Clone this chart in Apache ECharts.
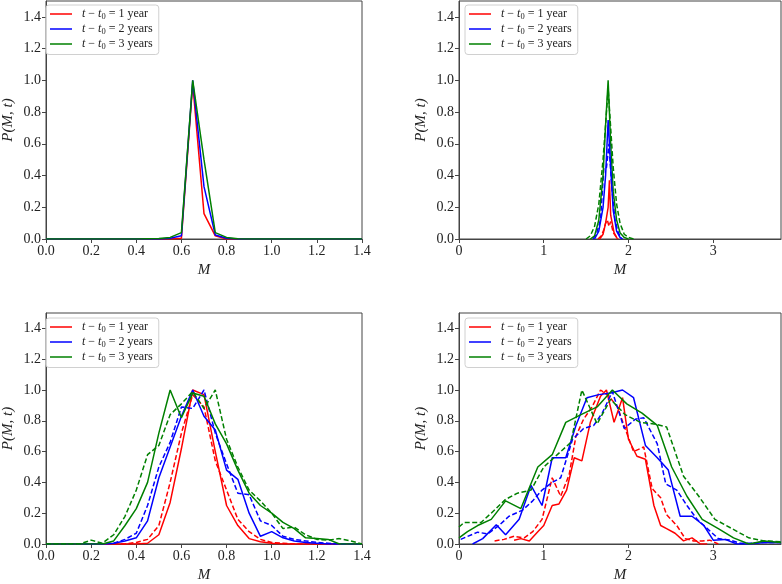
<!DOCTYPE html>
<html>
<head>
<meta charset="utf-8">
<script src="https://cdn.jsdelivr.net/npm/echarts@6/dist/echarts.min.js"></script>
<style>
html,body{margin:0;padding:0;background:#fff;}
#c{width:782px;height:584px;}
</style>
</head>
<body>
<div id="c"></div>
<script>
// ---------- data ----------
const legendNames = ['1 year', '2 years', '3 years'];
const colors = ['#ff0000', '#0000ff', '#008000'];

// Panel A (top-left): M grid
const aM = [0.0, 0.3, 0.35, 0.4, 0.45, 0.5, 0.55, 0.6, 0.65, 0.7, 0.75, 0.8, 0.85, 0.9, 0.95, 1.0, 1.4];
const aRed   = [0, 0, 0, 0, 0, 0, 0, 0.005, 0.98, 0.16, 0.02, 0, 0, 0, 0, 0, 0];
const aBlue  = [0, 0, 0, 0, 0, 0, 0.005, 0.02, 1.0, 0.33, 0.025, 0.005, 0, 0, 0, 0, 0];
const aGreen = [0, 0, 0, 0, 0.002, 0.003, 0.01, 0.04, 1.0, 0.5, 0.04, 0.01, 0.002, 0, 0, 0, 0];

// Panel B (top-right)
const bRedS_M   = [1.66, 1.70, 1.73, 1.76, 1.775, 1.79, 1.83, 1.87];
const bRedS     = [0, 0.03, 0.1, 0.2, 0.37, 0.15, 0.04, 0];
const bRedD_M   = [1.64, 1.68, 1.71, 1.73, 1.75, 1.77, 1.79, 1.82, 1.86, 1.88];
const bRedD     = [0, 0.02, 0.06, 0.1, 0.12, 0.08, 0.11, 0.04, 0.01, 0];
const bBlueS_M  = [1.60, 1.65, 1.70, 1.73, 1.76, 1.79, 1.82, 1.86, 1.90, 1.93];
const bBlueS    = [0, 0.05, 0.2, 0.4, 0.75, 0.45, 0.18, 0.05, 0.01, 0];
const bBlueD_M  = [1.58, 1.62, 1.67, 1.71, 1.74, 1.77, 1.80, 1.84, 1.88, 1.92];
const bBlueD    = [0, 0.03, 0.12, 0.45, 0.45, 0.6, 0.35, 0.12, 0.04, 0];
const bGreenS_M = [1.55, 1.60, 1.65, 1.70, 1.73, 1.76, 1.79, 1.82, 1.86, 1.90, 1.95, 2.00];
const bGreenS   = [0, 0.02, 0.12, 0.4, 0.72, 1.0, 0.6, 0.3, 0.12, 0.04, 0.01, 0];
const bGreenD_M = [1.50, 1.55, 1.60, 1.65, 1.70, 1.73, 1.76, 1.79, 1.82, 1.86, 1.90, 1.95, 2.00, 2.06];
const bGreenD   = [0, 0.02, 0.08, 0.22, 0.5, 0.72, 0.95, 0.7, 0.45, 0.22, 0.1, 0.03, 0.01, 0];

// Panel C (bottom-left): M from 0 to 1.4 step 0.05
const cM = [0, 0.05, 0.1, 0.15, 0.2, 0.25, 0.3, 0.35, 0.4, 0.45, 0.5, 0.55, 0.6, 0.65, 0.7, 0.75, 0.8, 0.85, 0.9, 0.95, 1.0, 1.05, 1.1, 1.15, 1.2, 1.25, 1.3, 1.35, 1.4];
const cRedS   = [0,0,0,0,0,0,0,0,0,0.005,0.06,0.27,0.62,1.0,0.97,0.6,0.25,0.12,0.035,0.015,0.005,0,0,0,0,0,0,0,0];
const cRedD   = [0,0,0,0,0,0,0,0,0.01,0.03,0.12,0.4,0.72,0.97,0.89,0.54,0.35,0.16,0.08,0.03,0.01,0.005,0,0,0,0,0,0,0];
const cBlueS  = [0,0,0,0,0,0,0.005,0.02,0.04,0.15,0.43,0.63,0.83,1.0,0.83,0.74,0.48,0.42,0.2,0.05,0.08,0.04,0.02,0.01,0.005,0,0,0,0];
const cBlueD  = [0,0,0,0,0,0,0.005,0.03,0.07,0.25,0.5,0.66,0.89,0.88,1.0,0.72,0.52,0.33,0.32,0.15,0.12,0.05,0.03,0.02,0.01,0.005,0,0,0];
const cGreenS = [0,0,0,0,0,0,0.02,0.12,0.23,0.4,0.72,1.0,0.82,0.98,0.96,0.78,0.65,0.48,0.33,0.25,0.2,0.14,0.1,0.04,0.035,0.03,0,0,0];
const cGreenD = [0,0,0,0,0.025,0.005,0.06,0.18,0.35,0.58,0.64,0.84,0.91,0.99,0.88,1.0,0.68,0.5,0.35,0.28,0.2,0.1,0.11,0.06,0.03,0.025,0.035,0.02,0];

// Panel D (bottom-right)
const dRedS_M = [0.65,0.73,0.83,0.93,1.0,1.1,1.18,1.27,1.36,1.45,1.55,1.67,1.74,1.83,1.93,2.0,2.1,2.2,2.3,2.38,2.45,2.55,2.65,2.75,2.85,2.93];
const dRedS   = [0.025,0.035,0.02,0.08,0.12,0.25,0.26,0.35,0.56,0.54,0.79,0.96,1.0,0.79,0.95,0.68,0.57,0.55,0.25,0.12,0.1,0.07,0.02,0.04,0,0];
const dRedD_M = [0.42,0.53,0.65,0.77,0.87,0.98,1.1,1.2,1.3,1.38,1.47,1.57,1.67,1.77,1.87,1.96,2.06,2.18,2.28,2.38,2.45,2.57,2.67,2.77,2.87,2.96,3.06];
const dRedD   = [0.02,0.03,0.05,0.04,0.08,0.16,0.43,0.31,0.45,0.7,0.81,0.89,1.0,0.96,0.89,0.75,0.6,0.63,0.36,0.3,0.19,0.12,0.035,0.02,0.02,0.025,0];
const dBlueS_M = [0.16,0.28,0.44,0.55,0.71,0.85,0.98,1.1,1.26,1.38,1.51,1.65,1.79,1.93,2.06,2.2,2.34,2.47,2.61,2.75,2.89,3.0,3.14,3.28,3.42,3.6,3.8];
const dBlueS   = [0,0.035,0.125,0.06,0.16,0.38,0.25,0.56,0.56,0.77,0.95,0.97,0.98,1.0,0.95,0.64,0.56,0.48,0.18,0.18,0.12,0.025,0.03,0,0,0.01,0.01];
const dBlueD_M = [0.02,0.22,0.34,0.47,0.59,0.75,0.87,0.98,1.1,1.2,1.34,1.47,1.59,1.69,1.81,1.95,2.08,2.18,2.34,2.44,2.57,2.69,2.81,2.93,3.06,3.2,3.32,3.44,3.55,3.67,3.8];
const dBlueD   = [0.03,0.077,0.065,0.12,0.18,0.22,0.28,0.35,0.4,0.43,0.68,0.75,0.77,0.85,0.99,0.75,0.81,0.82,0.65,0.39,0.35,0.25,0.16,0.1,0.035,0.025,0.005,0.005,0.01,0.01,0.01];
const dGreenS_M = [0,0.1,0.22,0.38,0.55,0.73,0.93,1.1,1.26,1.44,1.63,1.81,1.98,2.16,2.34,2.51,2.69,2.87,3.06,3.24,3.42,3.6,3.8];
const dGreenS   = [0.04,0.08,0.12,0.16,0.28,0.23,0.5,0.58,0.79,0.84,0.89,1.0,0.91,0.85,0.77,0.5,0.31,0.16,0.1,0.04,0,0.02,0.01];
const dGreenD_M = [0,0.06,0.26,0.38,0.55,0.69,0.85,1.0,1.16,1.32,1.45,1.63,1.79,1.96,2.14,2.3,2.45,2.65,2.83,3.02,3.22,3.42,3.6,3.8];
const dGreenD   = [0.11,0.14,0.14,0.2,0.29,0.33,0.35,0.5,0.58,0.66,1.0,0.78,0.94,0.84,0.79,0.78,0.76,0.44,0.31,0.16,0.1,0.04,0.02,0.015];

// ---------- chart ----------
const FONT = 'Liberation Serif';
const zip = (xs, ys) => xs.map((x, i) => [x, ys[i]]);

const grids = [
  {left: 40, top: 1, width: 322, height: 238},
  {left: 459, top: 1, width: 322, height: 238},
  {left: 40, top: 313, width: 322, height: 239},
  {left: 459, top: 313, width: 322, height: 239}
];

function xAxis(i, max, interval, digits) {
  return {
    type: 'value', gridIndex: i, min: 0, max: max, interval: interval,
    name: 'M', nameLocation: 'middle', nameGap: 24,
    nameTextStyle: {fontFamily: FONT, fontStyle: 'italic', fontSize: 15, color: '#222'},
    axisLine: {show: true, onZero: false, lineStyle: {color: '#444', width: 1}},
    axisTick: {show: true, length: 4, lineStyle: {color: '#444'}},
    axisLabel: {fontFamily: FONT, fontSize: 14, color: '#222', margin: 5, showMaxLabel: digits > 0,
      formatter: v => (digits === 0 && Math.abs(v - Math.round(v)) > 1e-6) ? '' : v.toFixed(digits)},
    splitLine: {show: false}
  };
}
function yAxis(i) {
  return {
    type: 'value', gridIndex: i, min: 0, max: 1.5, interval: 0.2,
    name: 'P(M, t)', nameLocation: 'middle', nameGap: 30,
    nameTextStyle: {fontFamily: FONT, fontStyle: 'italic', fontSize: 15, color: '#222'},
    axisLine: {show: true, onZero: false, lineStyle: {color: '#444', width: 1}},
    axisTick: {show: true, length: 4, lineStyle: {color: '#444'}},
    axisLabel: {fontFamily: FONT, fontSize: 14, color: '#222', margin: 5, showMaxLabel: false,
      formatter: v => v.toFixed(1)},
    splitLine: {show: false}
  };
}

function line(name, grid, data, color, dashed) {
  return {
    name: name, type: 'line', xAxisIndex: grid, yAxisIndex: grid,
    data: data, symbol: 'none', showSymbol: false, silent: true,
    lineStyle: {color: color, width: 1.5, type: dashed ? [5, 2.5] : 'solid'},
    itemStyle: {color: color}
  };
}

const series = [
  // A
  line('1 year', 0, zip(aM, aRed), colors[0], false),
  line('2 years', 0, zip(aM, aBlue), colors[1], false),
  line('3 years', 0, zip(aM, aGreen), colors[2], false),
  // B
  line('1 year d', 1, zip(bRedD_M, bRedD), colors[0], true),
  line('2 years d', 1, zip(bBlueD_M, bBlueD), colors[1], true),
  line('3 years d', 1, zip(bGreenD_M, bGreenD), colors[2], true),
  line('3 years', 1, zip(bGreenS_M, bGreenS), colors[2], false),
  line('2 years', 1, zip(bBlueS_M, bBlueS), colors[1], false),
  line('1 year', 1, zip(bRedS_M, bRedS), colors[0], false),
  // C
  line('1 year', 2, zip(cM, cRedS), colors[0], false),
  line('1 year d', 2, zip(cM, cRedD), colors[0], true),
  line('2 years', 2, zip(cM, cBlueS), colors[1], false),
  line('2 years d', 2, zip(cM, cBlueD), colors[1], true),
  line('3 years', 2, zip(cM, cGreenS), colors[2], false),
  line('3 years d', 2, zip(cM, cGreenD), colors[2], true),
  // D
  line('1 year', 3, zip(dRedS_M, dRedS), colors[0], false),
  line('1 year d', 3, zip(dRedD_M, dRedD), colors[0], true),
  line('2 years', 3, zip(dBlueS_M, dBlueS), colors[1], false),
  line('2 years d', 3, zip(dBlueD_M, dBlueD), colors[1], true),
  line('3 years', 3, zip(dGreenS_M, dGreenS), colors[2], false),
  line('3 years d', 3, zip(dGreenD_M, dGreenD), colors[2], true)
];

function legend(left, top) {
  return {
    data: legendNames.map((n, k) => ({name: n, icon: 'rect', itemStyle: {color: colors[k]}})),
    left: left, top: top, orient: 'vertical',
    itemWidth: 22, itemHeight: 1.5, itemGap: 1.5, padding: [3, 6, 3, 4],
    borderColor: '#d0d0d0', borderWidth: 1, borderRadius: 3,
    backgroundColor: 'rgba(255,255,255,0.8)', selectedMode: false,
    textStyle: {
      fontFamily: FONT, fontSize: 12, color: '#222', padding: [0, 0, 0, 5],
      rich: {
        i: {fontFamily: FONT, fontStyle: 'italic', fontSize: 12, color: '#222'},
        s: {fontFamily: FONT, fontSize: 8.5, color: '#222', verticalAlign: 'bottom', padding: [6, 0, 0, 0]},
        n: {fontFamily: FONT, fontSize: 12, color: '#222'}
      }
    },
    formatter: name => '{i|t} {n|\u2212} {i|t}{s|0} {n|= ' + name + '}'
  };
}

const option = {
  animation: false,
  backgroundColor: '#fff',
  grid: grids.map(g => Object.assign({show: true, borderColor: '#444', borderWidth: 1, containLabel: false}, g)),
  xAxis: [xAxis(0, 1.4, 0.2, 1), xAxis(1, 3.8, 1, 0), xAxis(2, 1.4, 0.2, 1), xAxis(3, 3.8, 1, 0)],
  yAxis: [yAxis(0), yAxis(1), yAxis(2), yAxis(3)],
  legend: [legend(46, 5), legend(465, 5), legend(46, 318), legend(465, 318)],
  series: series
};

const chart = echarts.init(document.getElementById('c'), null, {renderer: 'canvas'});
chart.setOption(option);
</script>
</body>
</html>
